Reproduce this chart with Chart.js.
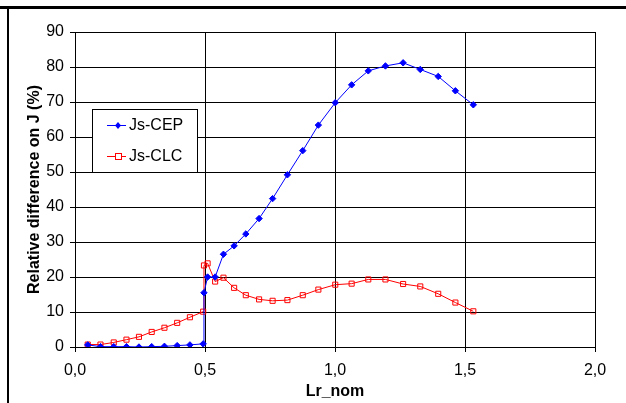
<!DOCTYPE html>
<html>
<head>
<meta charset="utf-8">
<script src="https://cdn.jsdelivr.net/npm/chart.js@4.4.1/dist/chart.umd.min.js"></script>
<style>
  html, body { margin: 0; padding: 0; background: #fff; }
  #wrap { width: 626px; height: 403px; position: relative; }
</style>
</head>
<body>
<div id="wrap"><canvas id="myChart" width="626" height="403"></canvas></div>
<script>
// Lr_nom values (x) shared by both series
const lr_nom = [0.049, 0.098, 0.149, 0.198, 0.246, 0.295, 0.344, 0.393, 0.442, 0.493,
                0.496, 0.510, 0.539, 0.571, 0.612, 0.657, 0.708, 0.760, 0.817, 0.876,
                0.936, 1.001, 1.064, 1.128, 1.194, 1.262, 1.328, 1.397, 1.463, 1.532];

const js_cep = [0.6, 0.1, 0.1, 0.1, 0.0, 0.1, 0.2, 0.4, 0.6, 0.9,
                15.5, 20.0, 20.0, 26.5, 28.9, 32.3, 36.7, 42.4, 49.2, 56.1,
                63.4, 69.8, 74.9, 78.9, 80.3, 81.2, 79.3, 77.3, 73.2, 69.2];

const js_clc = [0.7, 0.7, 1.3, 2.1, 2.9, 4.3, 5.5, 6.9, 8.5, 10.1,
                23.3, 23.9, 18.7, 19.8, 16.9, 14.8, 13.6, 13.2, 13.4, 14.8,
                16.4, 17.8, 18.1, 19.3, 19.3, 18.0, 17.3, 15.2, 12.7, 10.2];

const series_names = ['Js-CEP', 'Js-CLC'];
const x_title = 'Lr_nom';
const y_title = 'Relative difference on J (%)';

const font_family = '"Liberation Sans", Arial, sans-serif';

function toPoints(ys) {
    return lr_nom.map((x, i) => ({ x: x, y: ys[i] }));
}

// outer frame lines (top and left) + legend box
const framePlugin = {
    id: 'frame',
    afterDraw(chart) {
        const c = chart.ctx;
        c.save();
        c.fillStyle = '#000';
        c.fillRect(0, 6, 626, 3);
        c.fillRect(7, 6, 2, 397);

        // legend box
        const lx = 92.5, ly = 109.5, lw = 105, lh = 63;
        c.fillStyle = '#fff';
        c.fillRect(lx, ly, lw, lh);
        c.strokeStyle = '#000';
        c.lineWidth = 1;
        c.strokeRect(lx, ly, lw, lh);

        const rows = [
            { y: 125, color: '#0000ff', name: series_names[0], marker: 'diamond' },
            { y: 156, color: '#ff0000', name: series_names[1], marker: 'square' }
        ];
        rows.forEach(r => {
            c.strokeStyle = r.color;
            c.lineWidth = 1;
            c.beginPath();
            c.moveTo(107, r.y + 0.5);
            c.lineTo(126, r.y + 0.5);
            c.stroke();
            if (r.marker === 'diamond') {
                c.fillStyle = r.color;
                c.beginPath();
                c.moveTo(118, r.y - 3);
                c.lineTo(121, r.y + 0.5);
                c.lineTo(118, r.y + 4);
                c.lineTo(115, r.y + 0.5);
                c.closePath();
                c.fill();
            } else {
                c.fillStyle = '#fff';
                c.fillRect(115.5, r.y - 2.5, 6, 6);
                c.strokeRect(115.5, r.y - 2.5, 6, 6);
            }
            c.fillStyle = '#000';
            c.font = '16px ' + font_family;
            c.textBaseline = 'middle';
            c.textAlign = 'left';
            c.fillText(r.name, 129, r.y + 1);
        });
        c.restore();
    }
};

const ctx = document.getElementById('myChart').getContext('2d');

const chart = new Chart(ctx, {
    type: 'scatter',
    data: {
        datasets: [{
            label: series_names[0],
            data: toPoints(js_cep),
            showLine: true,
            borderColor: '#0000ff',
            backgroundColor: '#0000ff',
            borderWidth: 1,
            pointStyle: 'rectRot',
            pointRadius: 3.2,
            pointBorderWidth: 1,
            tension: 0
        }, {
            label: series_names[1],
            data: toPoints(js_clc),
            showLine: true,
            borderColor: '#ff0000',
            backgroundColor: '#ff0000',
            pointBackgroundColor: 'rgba(255,255,255,0)',
            borderWidth: 1,
            pointStyle: 'rect',
            pointRadius: 3.6,
            pointBorderWidth: 1,
            tension: 0
        }]
    },
    options: {
        responsive: false,
        animation: false,
        events: [],
        layout: { padding: { left: 0, top: 32, right: 31, bottom: 0 } },
        plugins: {
            legend: { display: false },
            tooltip: { enabled: false }
        },
        scales: {
            x: {
                type: 'linear',
                min: 0,
                max: 2,
                ticks: {
                    stepSize: 0.5,
                    color: '#000',
                    font: { family: font_family, size: 16 },
                    padding: 9,
                    maxRotation: 0,
                    callback: v => v.toFixed(1).replace('.', ',')
                },
                grid: { color: '#000', lineWidth: 1, tickLength: 5, drawTicks: true },
                border: { color: '#000', width: 1 },
                title: {
                    display: true,
                    text: x_title,
                    color: '#000',
                    font: { family: font_family, size: 16, weight: 'bold' },
                    padding: { top: 2, bottom: 1.5 }
                },
                afterFit(scale) { scale.height = 56; }
            },
            y: {
                type: 'linear',
                min: 0,
                max: 90,
                ticks: {
                    stepSize: 10,
                    color: '#000',
                    font: { family: font_family, size: 16 },
                    padding: 6
                },
                grid: { color: '#000', lineWidth: 1, tickLength: 5, drawTicks: true },
                border: { color: '#000', width: 1 },
                title: {
                    display: true,
                    text: y_title,
                    color: '#000',
                    font: { family: font_family, size: 16, weight: 'bold' },
                    padding: { top: 25, bottom: 4 }
                },
                afterFit(scale) { scale.width = 75; }
            }
        }
    },
    plugins: [framePlugin]
});
</script>
</body>
</html>
